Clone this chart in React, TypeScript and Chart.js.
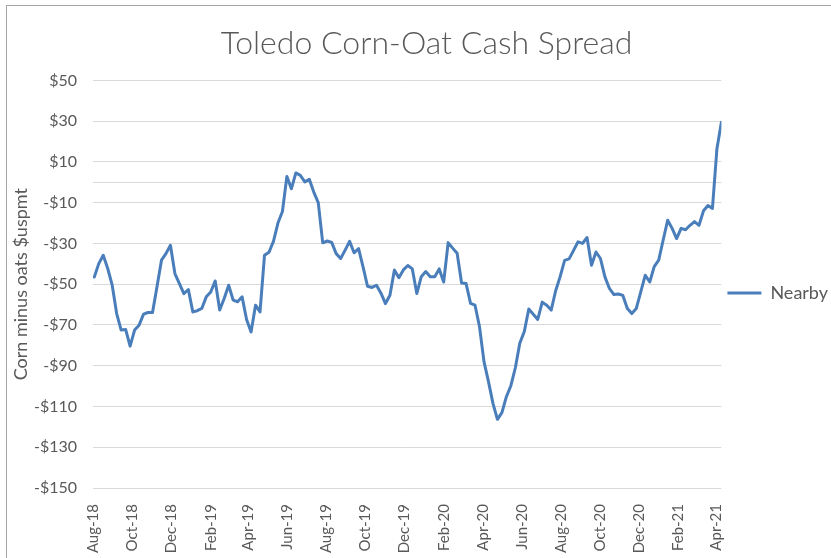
import React, { useEffect, useRef } from "react";
import { Chart, registerables } from "chart.js";

Chart.register(...registerables);

const chartTitle = "Toledo Corn-Oat Cash Spread";
const yAxisTitle = "Corn minus oats $uspmt";
const seriesName = "Nearby";
const firstWeek = "2018-08-03"; // weekly observations start
const axisOrigin = "2018-08-01";

// Weekly Toledo corn minus oats cash spread, $ per metric ton
const nearby = [
  -46.5, -39.9, -35.8, -42.3, -50.5, -64.4, -72.5, -72.2, -80.4, -72.5,
  -70.1, -64.7, -63.9, -63.9, -51.3, -38.2, -35.0, -30.9, -44.8, -49.7,
  -54.6, -52.6, -63.6, -63.0, -61.9, -56.2, -53.8, -48.4, -62.7, -57.0,
  -50.5, -57.8, -58.6, -56.2, -67.3, -73.4, -60.3, -63.6, -35.8, -34.3,
  -29.0, -20.0, -14.3, 2.9, -3.2, 4.6, 3.4, 0.2, 1.5, -4.8,
  -10.0, -29.7, -28.8, -29.5, -35.0, -37.4, -33.3, -29.0, -34.6, -32.5,
  -41.5, -51.0, -51.6, -50.5, -54.4, -59.5, -55.4, -43.1, -46.8, -43.0,
  -40.8, -42.5, -54.6, -46.3, -43.8, -46.3, -46.3, -42.5, -48.9, -29.6,
  -32.3, -34.8, -49.4, -49.7, -59.4, -60.3, -70.9, -88.0, -97.8, -108.5,
  -116.3, -113.0, -105.2, -99.8, -91.0, -78.9, -73.2, -62.2, -64.7, -67.3,
  -58.8, -60.3, -62.7, -53.2, -46.3, -38.3, -37.6, -33.4, -29.2, -30.0,
  -27.1, -40.7, -34.2, -37.4, -46.4, -52.1, -55.1, -54.8, -55.5, -61.9,
  -64.4, -61.9, -53.8, -45.6, -48.9, -41.4, -38.2, -28.3, -18.6, -22.6,
  -27.6, -22.6, -23.3, -21.1, -19.3, -21.1, -14.0, -11.4, -12.8, 16.5,
  29.5,
];

const xTickLabels = [
  "Aug-18", "Oct-18", "Dec-18", "Feb-19", "Apr-19", "Jun-19", "Aug-19", "Oct-19",
  "Dec-19", "Feb-20", "Apr-20", "Jun-20", "Aug-20", "Oct-20", "Dec-20", "Feb-21", "Apr-21",
];

const yMin = -150;
const yMax = 50;
const yStep = 20;

const monthNames = ["Jan", "Feb", "Mar", "Apr", "May", "Jun", "Jul", "Aug", "Sep", "Oct", "Nov", "Dec"];
const DAY = 86400000;

export default function App() {
  const ref = useRef<HTMLCanvasElement>(null);

  useEffect(() => {
    const origin = Date.parse(axisOrigin);
    const start = (Date.parse(firstWeek) - origin) / DAY;
    const points = nearby.map((v, i) => ({ x: start + 7 * i, y: v }));
    const lastX = start + 7 * (nearby.length - 1);
    const tickDays = xTickLabels.map((l) => {
      const [m, y] = l.split("-");
      return (Date.UTC(2000 + Number(y), monthNames.indexOf(m), 1) - origin) / DAY;
    });

    const chart = new Chart(ref.current as HTMLCanvasElement, {
      type: "line",
      data: {
        datasets: [
          {
            label: seriesName,
            data: points,
            borderColor: "#4a7ebb",
            backgroundColor: "#4a7ebb",
            borderWidth: 3,
            pointRadius: 0,
            tension: 0,
            borderJoinStyle: "round",
            borderCapStyle: "round",
            fill: false,
          },
        ],
      },
      options: {
        responsive: false,
        animation: false,
        layout: { padding: { left: 15, right: -7, top: 0, bottom: -28 } },
        plugins: {
          title: {
            display: true,
            text: chartTitle,
            color: "#595959",
            font: { family: "Lato", size: 32, weight: "300" },
            padding: { top: 24, bottom: 18 },
          },
          legend: {
            position: "right",
            labels: {
              usePointStyle: true,
              pointStyle: "line",
              pointStyleWidth: 34,
              color: "#595959",
              font: { family: "Lato", size: 18 },
              padding: 6,
            },
          },
          tooltip: { enabled: false },
        },
        scales: {
          x: {
            type: "linear",
            min: 0,
            max: lastX,
            afterBuildTicks: (s: any) => {
              s.ticks = tickDays.map((v) => ({ value: v }));
            },
            afterFit: (s: any) => {
              s.height = 98;
            },
            ticks: {
              autoSkip: false,
              minRotation: 90,
              maxRotation: 90,
              color: "#595959",
              font: { family: "Lato", size: 15 },
              padding: 8,
              callback: (_v: any, i: number) => xTickLabels[i],
            },
            grid: { display: false },
            border: { display: false },
          },
          y: {
            min: yMin,
            max: yMax,
            afterBuildTicks: (s: any) => {
              s.ticks.push({ value: 0 });
              s.ticks.sort((a: any, b: any) => a.value - b.value);
            },
            afterFit: (s: any) => {
              s.width = 78;
            },
            ticks: {
              stepSize: yStep,
              color: "#595959",
              font: { family: "Lato", size: 16 },
              padding: 16,
              callback: (v: any) => (v === 0 ? "" : v < 0 ? "-$" + Math.abs(v) : "$" + v),
            },
            grid: { color: "#d9d9d9", lineWidth: 1, drawTicks: false },
            border: { display: false },
            title: {
              display: true,
              text: yAxisTitle,
              color: "#595959",
              font: { family: "Lato", size: 18 },
              padding: { top: -5, bottom: 0 },
            },
          },
        },
      },
    } as any);
    return () => chart.destroy();
  }, []);

  return (
    <div
      style={{
        position: "fixed",
        left: 0,
        top: 0,
        width: 831,
        height: 558,
        overflow: "hidden",
        background: "#ffffff",
      }}
    >
      <div
        style={{
          position: "absolute",
          left: 6,
          top: 5,
          width: 1000,
          height: 1000,
          borderTop: "1px solid #a6a6a6",
          borderLeft: "1px solid #a6a6a6",
        }}
      />
      <canvas ref={ref} width={831} height={558} style={{ position: "absolute", left: 0, top: 0 }} />
    </div>
  );
}
